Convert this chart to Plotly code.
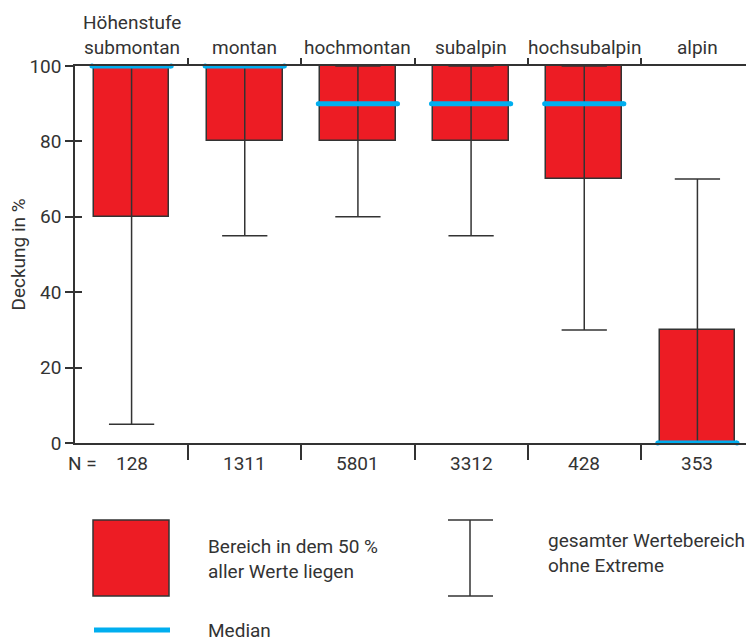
import plotly.graph_objects as go

categories = ["submontan", "montan", "hochmontan", "subalpin", "hochsubalpin", "alpin"]
n_counts = ["128", "1311", "5801", "3312", "428", "353"]
q1 = [60, 80, 80, 80, 70, 0]
q3 = [100, 100, 100, 100, 100, 30]
median = [100, 100, 90, 90, 90, 0]
wmin = [5, 55, 60, 55, 30, 0]
wmax = [100, 100, 100, 100, 100, 70]
y_ticks = [0, 20, 40, 60, 80, 100]

RED = "#ED1C24"
BLUE = "#00AEEF"
INK = "#333333"
FONT = "Roboto, Liberation Sans, sans-serif"
FS = 19

OFF = 8  # page body margin
W, H = 754 - OFF, 640 - OFF
L, T = 75 - OFF, 66 - OFF
R = 0
PB = 443 - OFF
PW = W - L - R
PH = PB - T

def px(x):
    return (x - OFF - L) / PW

def py(y):
    return (PB - (y - OFF)) / PH

xs = list(range(len(categories)))
BOXW = 0.67
CAP = 0.2
MED = 0.35

fig = go.Figure()
fig.add_trace(go.Bar(x=xs, base=q1, y=[b - a for a, b in zip(q1, q3)], width=BOXW,
                     marker=dict(color=RED, line=dict(color=INK, width=1.5)),
                     cliponaxis=False, showlegend=False, hoverinfo="skip"))

wx, wy = [], []
for i in xs:
    wx += [i, i, None]
    wy += [wmin[i], wmax[i], None]
    for v in (wmin[i], wmax[i]):
        wx += [i - CAP, i + CAP, None]
        wy += [v, v, None]
fig.add_trace(go.Scatter(x=wx, y=wy, mode="lines", line=dict(color=INK, width=1.5),
                         cliponaxis=False, showlegend=False, hoverinfo="skip"))

for i in xs:
    fig.add_trace(go.Scatter(x=[i - MED, i + MED], y=[median[i], median[i]], mode="lines+markers",
                             line=dict(color=BLUE, width=5), marker=dict(color=BLUE, size=5),
                             cliponaxis=False, showlegend=False, hoverinfo="skip"))

fig.add_trace(go.Scatter(x=[0], y=[0], xaxis="x2", yaxis="y2", mode="markers",
                         marker=dict(opacity=0), showlegend=False, hoverinfo="skip"))

sep = [i + 0.5 for i in xs[:-1]]
fig.update_layout(
    width=W, height=H, margin=dict(l=L, r=R, t=T, b=H - PB),
    plot_bgcolor="white", paper_bgcolor="white",
    font=dict(family=FONT, size=FS, color=INK),
    xaxis=dict(range=[-0.5, 5.5], showgrid=False, zeroline=False, showline=True, linecolor=INK, linewidth=1.5,
               tickvals=sep, ticktext=[""] * len(sep), ticks="outside", ticklen=15, tickcolor=INK, tickwidth=1.5),
    xaxis2=dict(range=[-0.5, 5.5], overlaying="x", side="top", anchor="y2", showgrid=False, zeroline=False,
                showline=True, linecolor=INK, linewidth=1.5,
                tickvals=sep, ticktext=[""] * len(sep), ticks="outside", ticklen=6, tickcolor=INK, tickwidth=1.5),
    yaxis=dict(range=[0, 100], showgrid=False, zeroline=False, showline=True, linecolor=INK, linewidth=1.5,
               tickvals=y_ticks, ticks="outside", ticklen=8, tickcolor=INK, tickwidth=1.5,
               tickfont=dict(size=FS, color=INK)),
    yaxis2=dict(range=[0, 100], overlaying="y", side="left", anchor="x2", showgrid=False, zeroline=False,
                showline=False, tickvals=y_ticks, ticktext=[""] * len(y_ticks), ticks="inside", ticklen=7,
                tickcolor=INK, tickwidth=1.5),
    bargap=0,
)

ann = []
for i, c in enumerate(categories):
    ann.append(dict(x=i, y=1, xref="x", yref="paper", text=c, showarrow=False,
                    xanchor="center", yanchor="bottom", yshift=5, font=dict(size=FS)))
    ann.append(dict(x=i, y=0, xref="x", yref="paper", text=n_counts[i], showarrow=False,
                    xanchor="center", yanchor="top", yshift=-7, font=dict(size=FS)))
ann.append(dict(x=0, y=1, xref="x", yref="paper", text="Höhenstufe", showarrow=False,
                xanchor="center", yanchor="bottom", yshift=30, font=dict(size=FS)))
ann.append(dict(x=px(66), y=0, xref="paper", yref="paper", text="N =", showarrow=False,
                xanchor="left", yanchor="top", yshift=-7, font=dict(size=FS)))
ann.append(dict(x=px(18), y=0.5, xref="paper", yref="paper", text="Deckung in %", showarrow=False,
                textangle=-90, xanchor="center", yanchor="middle", font=dict(size=FS)))
ann.append(dict(x=px(206), y=py(559), xref="paper", yref="paper", text="Bereich in dem 50 %<br>aller Werte liegen",
                showarrow=False, xanchor="left", yanchor="middle", align="left", font=dict(size=FS)))
ann.append(dict(x=px(206), y=py(630), xref="paper", yref="paper", text="Median",
                showarrow=False, xanchor="left", yanchor="middle", align="left", font=dict(size=FS)))
ann.append(dict(x=px(546), y=py(553), xref="paper", yref="paper", text="gesamter Wertebereich<br>ohne Extreme",
                showarrow=False, xanchor="left", yanchor="middle", align="left", font=dict(size=FS)))
fig.update_layout(annotations=ann)

shapes = [
    dict(type="rect", xref="paper", yref="paper", x0=px(93), x1=px(169), y0=py(596), y1=py(520),
         fillcolor=RED, line=dict(color=INK, width=1.5)),
    dict(type="line", xref="paper", yref="paper", x0=px(94), x1=px(170), y0=py(630), y1=py(630),
         line=dict(color=BLUE, width=5)),
    dict(type="line", xref="paper", yref="paper", x0=px(470), x1=px(470), y0=py(520), y1=py(596),
         line=dict(color=INK, width=1.5)),
    dict(type="line", xref="paper", yref="paper", x0=px(448), x1=px(493), y0=py(520), y1=py(520),
         line=dict(color=INK, width=1.5)),
    dict(type="line", xref="paper", yref="paper", x0=px(448), x1=px(493), y0=py(596), y1=py(596),
         line=dict(color=INK, width=1.5)),
]
fig.update_layout(shapes=shapes)

fig.write_html("out.html")
